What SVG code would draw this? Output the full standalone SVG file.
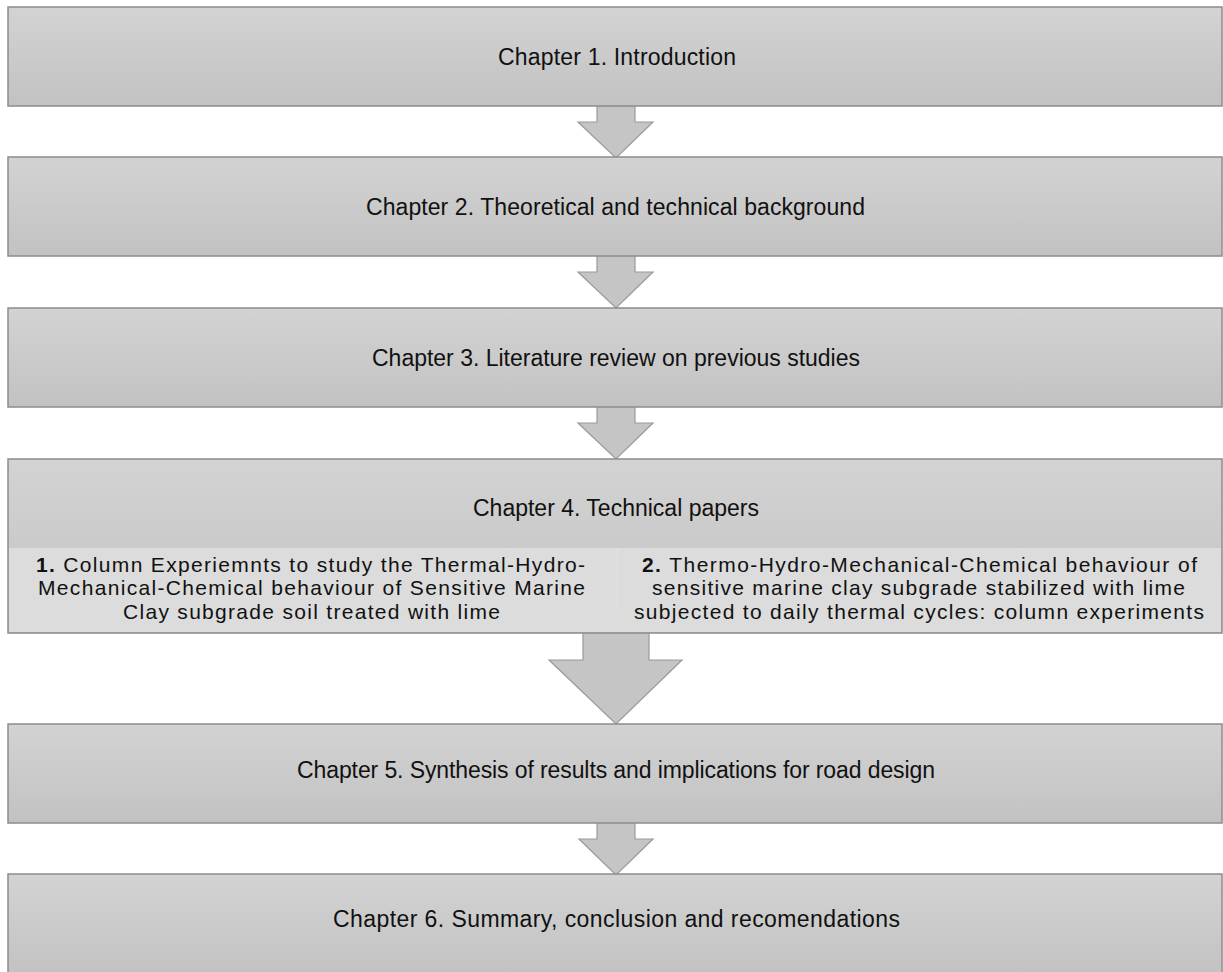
<svg xmlns="http://www.w3.org/2000/svg" width="1223" height="972" viewBox="0 0 1223 972">
<style>
.box{fill:url(#g);stroke:#8c8c8c;stroke-width:1.5}
.sub{fill:#dcdcdc;stroke:none}
.arr{fill:#c5c5c5;stroke:#9a9a9a;stroke-width:1.2;stroke-linejoin:miter}
text{font-family:"Liberation Sans",Arial,sans-serif;font-size:23px;fill:#111;text-anchor:middle}
.p{font-size:21px}
.b{font-weight:bold}
</style>
<defs>
<linearGradient id="g" x1="0" y1="0" x2="0" y2="1">
<stop offset="0" stop-color="#d3d3d3"/>
<stop offset="1" stop-color="#c2c2c2"/>
</linearGradient>
</defs>
<rect width="1223" height="972" fill="#fff"/>
<g id="connectors">
<polygon class="arr" points="597,105 635,105 635,122 653,122 616,158 578,122 597,122"/>
<polygon class="arr" points="597,255 635,255 635,272 653,272 616,308 578,272 597,272"/>
<polygon class="arr" points="597,406 635,406 635,423 653,423 616,459 578,423 597,423"/>
<polygon class="arr" points="583,632 649,632 649,660 682,660 616,724 549,660 583,660"/>
<polygon class="arr" points="597,822 635,822 635,839 653,839 616,875 579,839 597,839"/>
</g>
<g id="ch1">
<rect class="box" x="8" y="7" width="1214" height="99"/>
<text x="617" y="65" textLength="238" lengthAdjust="spacing">Chapter 1. Introduction</text>
</g>
<g id="ch2">
<rect class="box" x="8" y="157" width="1214" height="99"/>
<text x="615.5" y="215" textLength="499" lengthAdjust="spacing">Chapter 2. Theoretical and technical background</text>
</g>
<g id="ch3">
<rect class="box" x="8" y="308" width="1214" height="99"/>
<text x="616" y="366" textLength="488" lengthAdjust="spacing">Chapter 3. Literature review on previous studies</text>
</g>
<g id="ch4">
<rect class="box" x="8" y="459" width="1214" height="174"/>
<text x="616" y="516">Chapter 4. Technical papers</text>
<rect class="sub" x="9" y="548" width="607" height="84"/>
<rect class="sub" x="618" y="548" width="603" height="84"/>
<line x1="617" y1="548" x2="617" y2="632" stroke="#e6e6e6" stroke-width="1.5"/>
</g>
<g id="paper1">
<text class="p" x="310.5" y="571.5" textLength="549" lengthAdjust="spacing"><tspan class="b">1.</tspan> Column Experiemnts to study the Thermal-Hydro-</text>
<text class="p" x="311.5" y="595" textLength="547" lengthAdjust="spacing">Mechanical-Chemical behaviour of Sensitive Marine</text>
<text class="p" x="311.5" y="618.5" textLength="377" lengthAdjust="spacing">Clay subgrade soil treated with lime</text>
</g>
<g id="paper2">
<text class="p" x="919.5" y="571.5" textLength="555" lengthAdjust="spacing"><tspan class="b">2.</tspan> Thermo-Hydro-Mechanical-Chemical behaviour of</text>
<text class="p" x="918.5" y="595" textLength="533" lengthAdjust="spacing">sensitive marine clay subgrade stabilized with lime</text>
<text class="p" x="919" y="618.5" textLength="570" lengthAdjust="spacing">subjected to daily thermal cycles: column experiments</text>
</g>
<g id="ch5">
<rect class="box" x="8" y="724" width="1214" height="99"/>
<text x="616" y="778" textLength="638" lengthAdjust="spacing">Chapter 5. Synthesis of results and implications for road design</text>
</g>
<g id="ch6">
<rect class="box" x="8" y="874" width="1214" height="102"/>
<text x="616.5" y="927" textLength="567" lengthAdjust="spacing">Chapter 6. Summary, conclusion and recomendations</text>
</g>
</svg>
